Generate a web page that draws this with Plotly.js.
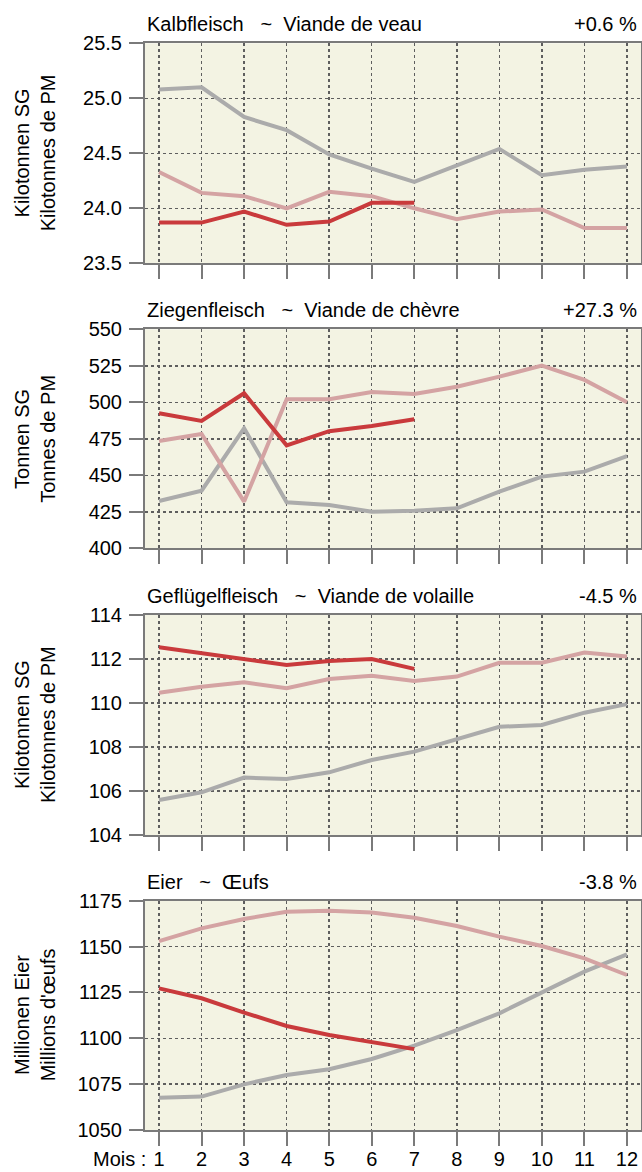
<!DOCTYPE html>
<html>
<head>
<meta charset="utf-8">
<script src="https://cdn.plot.ly/plotly-3.0.1.min.js"></script>
<style>html,body{margin:0;padding:0;background:#fff;}#chart{width:642px;height:1172px;}</style>
</head>
<body>
<div id="chart"></div>
<script>
// ---- data ----
const months = [1,2,3,4,5,6,7,8,9,10,11,12];
const monthsCur = [1,2,3,4,5,6,7];
const tickLabels = ["1","2","3","4","5","6","7","8","9","10","11","12"];

const panelTitles = ["Kalbfleisch\u00a0\u00a0\u00a0~\u00a0\u00a0Viande de veau",
                     "Ziegenfleisch\u00a0\u00a0\u00a0~\u00a0\u00a0Viande de chèvre",
                     "Geflügelfleisch\u00a0\u00a0\u00a0~\u00a0\u00a0Viande de volaille",
                     "Eier\u00a0\u00a0\u00a0~\u00a0\u00a0Œufs"];
const panelChanges = ["+0.6 %", "+27.3 %", "-4.5 %", "-3.8 %"];
const yTitles = ["Kilotonnen SG<br>Kilotonnes de PM",
                 "Tonnen SG<br>Tonnes de PM",
                 "Kilotonnen SG<br>Kilotonnes de PM",
                 "Millionen Eier<br>Millions d'œufs"];

// Kalbfleisch (kt)
const vealCur   = [23.87,23.87,23.97,23.85,23.88,24.05,24.05];
const vealPrev  = [24.33,24.14,24.11,24.00,24.15,24.11,24.00,23.90,23.97,23.99,23.82,23.82];
const vealPrev2 = [25.08,25.10,24.83,24.71,24.49,24.36,24.24,24.39,24.54,24.30,24.35,24.38];
// Ziegenfleisch (t)
const goatCur   = [492.5,487.2,506.2,470.5,480.2,483.8,488.4];
const goatPrev  = [473.5,478.3,432.0,502.1,502.1,507.1,505.7,510.7,517.6,525.1,515.3,500.0];
const goatPrev2 = [432.4,439.5,482.2,431.5,429.7,425.1,425.8,427.4,438.8,449.1,452.5,463.2];
// Geflügelfleisch (kt)
const poulCur   = [112.53,112.26,112.03,111.73,111.91,112.00,111.55];
const poulPrev  = [110.47,110.74,110.94,110.67,111.09,111.24,111.00,111.20,111.83,111.83,112.29,112.11];
const poulPrev2 = [105.59,105.94,106.61,106.55,106.85,107.41,107.79,108.35,108.92,109.00,109.56,109.95];
// Eier (Mio.)
const eggCur    = [1127.2,1121.8,1114.0,1106.7,1101.8,1098.1,1094.1];
const eggPrev   = [1153.0,1159.9,1165.0,1169.0,1169.5,1168.6,1165.7,1161.2,1155.4,1150.3,1143.6,1134.5];
const eggPrev2  = [1067.6,1068.2,1074.9,1080.0,1083.1,1088.7,1096.0,1104.5,1113.6,1124.9,1136.3,1145.7];

const yRanges = [[23.5,25.5],[400,550],[104,114],[1050,1175]];
const yTicks  = [[23.5,24,24.5,25,25.5],[400,425,450,475,500,525,550],[104,106,108,110,112,114],[1050,1075,1100,1125,1150,1175]];
const yTickText = [["23.5","24.0","24.5","25.0","25.5"],null,null,null];

// ---- styling ----
const FONT = "Liberation Sans, Arial, sans-serif";
const cGray = "#ababab", cPink = "#d4a3a3", cRed = "#c93a3c";
const W = 642, H = 1172, L = 145, R = 1;
// panel pixel extents (top,bottom)
const pix = [[43.3,263.3],[329.3,548.3],[615,835],[900.7,1130]];

const series = [
  [vealPrev2, vealPrev, vealCur],
  [goatPrev2, goatPrev, goatCur],
  [poulPrev2, poulPrev, poulCur],
  [eggPrev2, eggPrev, eggCur]
];

const traces = [];
const layout = {
  width: W, height: H,
  margin: {l: L, r: R, t: 0, b: 0, pad: 0},
  paper_bgcolor: "#ffffff",
  plot_bgcolor: "#f3f3e3",
  showlegend: false,
  font: {family: FONT, color: "#000", size: 19},
  annotations: []
};

for (let i = 0; i < 4; i++) {
  const sfx = i === 0 ? "" : String(i + 1);
  const xa = "x" + sfx, ya = "y" + sfx;
  const cols = [cGray, cPink, cRed];
  series[i].forEach((vals, k) => {
    traces.push({
      x: k === 2 ? monthsCur : months,
      y: vals,
      xaxis: xa, yaxis: ya,
      type: "scatter", mode: "lines",
      line: {color: cols[k], width: 4},
      hoverinfo: "skip"
    });
  });
  const d0 = 1 - pix[i][1] / H, d1 = 1 - pix[i][0] / H;
  const isLast = i === 3;
  layout["xaxis" + sfx] = {
    domain: [0, 1], anchor: ya,
    range: [0.67, 12.33],
    tickmode: "array", tickvals: months, ticktext: tickLabels,
    showticklabels: isLast,
    tickfont: {size: 20, family: FONT},
    ticks: "outside", ticklen: 14, tickwidth: 2, tickcolor: "#7a7a7a",
    ticklabelstandoff: -4,
    showline: true, mirror: true, linecolor: "#7a7a7a", linewidth: 2,
    showgrid: true, gridcolor: "#5e5e5e", gridwidth: 1.5, griddash: "dot",
    zeroline: false, fixedrange: true
  };
  layout["yaxis" + sfx] = {
    domain: [d0, d1], anchor: xa,
    range: yRanges[i],
    tickmode: "array", tickvals: yTicks[i],
    ticktext: yTickText[i] || yTicks[i].map(String),
    tickfont: {size: 20, family: FONT},
    ticks: "outside", ticklen: 14, tickwidth: 2, tickcolor: "#7a7a7a",
    ticklabelstandoff: 3,
    showline: true, mirror: true, linecolor: "#7a7a7a", linewidth: 2,
    showgrid: true, gridcolor: "#5e5e5e", gridwidth: 1.5, griddash: "dot",
    zeroline: false, fixedrange: true
  };
  // panel title (left) and change (right)
  layout.annotations.push({
    xref: "paper", yref: "paper", x: 0, y: d1, xanchor: "left", yanchor: "middle",
    yshift: 19, xshift: 0, text: panelTitles[i], showarrow: false,
    font: {size: 20, family: FONT, color: "#000"}
  });
  layout.annotations.push({
    xref: "paper", yref: "paper", x: 1, y: d1, xanchor: "right", yanchor: "middle",
    yshift: 19, xshift: -2, text: panelChanges[i], showarrow: false,
    font: {size: 20, family: FONT, color: "#000"}
  });
  // y-axis title (two lines, rotated)
  layout.annotations.push({
    xref: "paper", yref: "paper", x: (35 - L) / (W - L - R), y: (d0 + d1) / 2,
    xanchor: "center", yanchor: "middle", textangle: -90,
    text: yTitles[i], showarrow: false,
    font: {size: 20, family: FONT, color: "#000"}
  });
}
// "Mois :" label
layout.annotations.push({
  xref: "paper", yref: "paper", x: (148 - L) / (W - L - R), y: 1 - 1159 / H,
  xanchor: "right", yanchor: "middle", text: "Mois :", showarrow: false,
  font: {size: 20, family: FONT, color: "#000"}
});

Plotly.newPlot("chart", traces, layout, {displayModeBar: false, staticPlot: true});
</script>
</body>
</html>
